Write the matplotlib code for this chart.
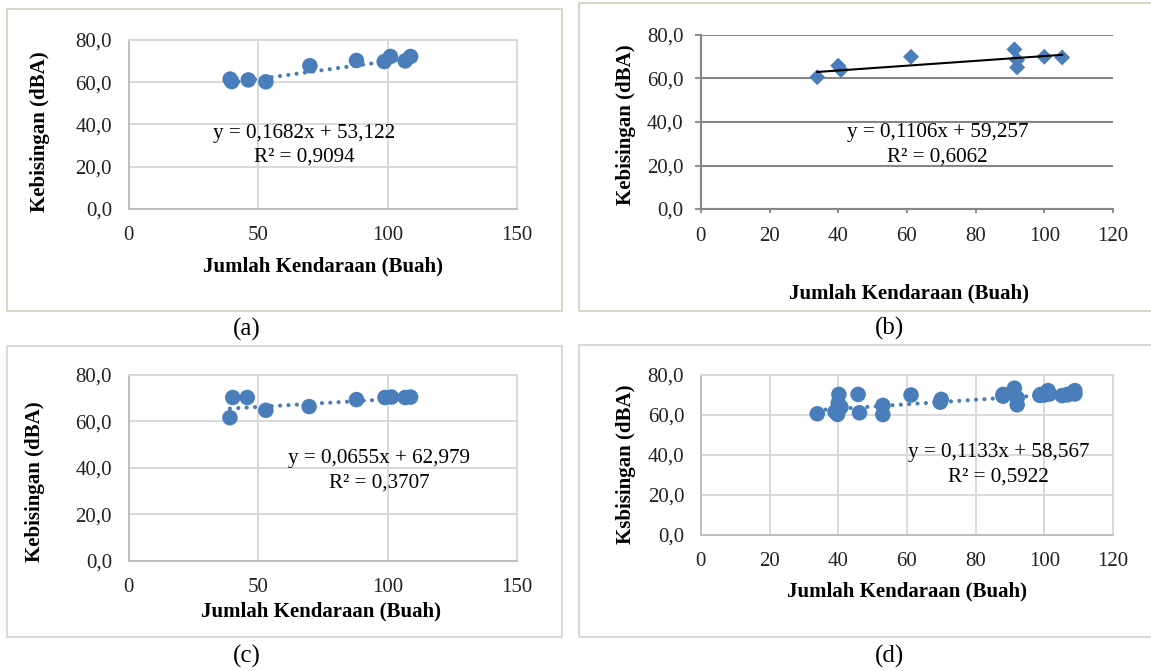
import matplotlib
matplotlib.use('Agg')
import matplotlib.pyplot as plt
from matplotlib.patches import Rectangle
import numpy as np

matplotlib.rcParams['font.family'] = 'serif'
matplotlib.rcParams['font.serif'] = ['Liberation Serif', 'DejaVu Serif']

# data
a_x = [39.2, 39.8, 46.2, 53.0, 70.0, 88.0, 98.7, 101.1, 106.8, 108.9]
a_y = [61.5, 60.3, 61.1, 60.2, 67.8, 70.3, 69.8, 72.2, 70.1, 72.2]
a_fit = (0.1682, 53.122, '0,9094')

b_x = [33.9, 40.0, 40.8, 61.2, 91.3, 92.1, 92.1, 100.0, 105.2]
b_y = [60.6, 65.9, 63.9, 70.0, 73.4, 68.5, 65.1, 70.0, 69.7]
b_fit = (0.1106, 59.257, '0,6062')

c_x = [39.1, 40.2, 45.8, 53.0, 69.7, 88.0, 99.0, 101.5, 106.8, 108.9]
c_y = [61.6, 70.3, 70.3, 64.8, 66.4, 69.4, 70.3, 70.5, 70.3, 70.5]
c_fit = (0.0655, 62.979, '0,3707')

# (d) holds every point of (a), (b) and (c)
d_x = a_x + b_x + c_x
d_y = a_y + b_y + c_y
d_fit = (0.1133, 58.567, '0,5922')

y_ticks = [0, 20, 40, 60, 80]
W, H = 1151, 671
blue = '#4a7ebb'
TICK_FS = 15
EQ_FS = 15.2
LAB_FS = 15


def px(x, y):
	return x / W, 1 - y / H


def box(l, t, r, b):
	return [l / W, 1 - b / H, (r - l) / W, (b - t) / H]


def eq_text(fit):
	m, c, r2 = fit
	s = 'y = {:.4f}x + {:.3f}'.format(m, c).replace('.', ',')
	return s, 'R² = ' + r2


fig = plt.figure(figsize=(W / 100, H / 100), dpi=100)

# panel frames
frames = [((7, 9, 562, 311), '#d8d8c4'), ((579, 3, 1160, 311), '#d8d8c8'),
		  ((7, 346, 562, 637), '#d9d9d9'), ((579, 345, 1160, 637), '#d9d9d9')]
for (l, t, r, b), col in frames:
	fig.add_artist(Rectangle((l / W, 1 - b / H), (r - l) / W, (b - t) / H, transform=fig.transFigure,
							 fill=False, ec=col, lw=1.5))


def excel_circles(rect, xs, ys, fit, xmax, xstep, ylab, eqpos, lab_pos, ylab_pos, xlab_pos):
	ax = fig.add_axes(box(*rect))
	ax.set_xlim(0, xmax)
	ax.set_ylim(0, 80)
	ax.set_xticks(np.arange(0, xmax + 1, xstep))
	ax.set_yticks(y_ticks)
	ax.set_yticklabels(['{:.1f}'.format(v).replace('.', ',') for v in y_ticks])
	ax.grid(True, color='#d9d9d9', lw=1.4)
	ax.set_axisbelow(True)
	for s in ['top', 'right']:
		ax.spines[s].set_color('#d9d9d9')
		ax.spines[s].set_linewidth(1.4)
	for s in ['left', 'bottom']:
		ax.spines[s].set_color('#bfbfbf')
		ax.spines[s].set_linewidth(1.4)
	ax.tick_params(axis='both', length=0, labelsize=TICK_FS, colors='#222222')
	ax.tick_params(axis='y', pad=12)
	ax.tick_params(axis='x', pad=12.5)
	m, c, r2 = fit
	xl = np.array([min(xs), max(xs)])
	ax.plot(xl, m * xl + c, color=blue, lw=3, linestyle=(0, (0.01, 2.0)), dash_capstyle='round', zorder=2)
	ax.scatter(xs, ys, s=125, color=blue, edgecolors='none', zorder=3)
	e1, e2 = eq_text(fit)
	fig.text(*px(*eqpos[0]), e1, ha='center', va='center', fontsize=EQ_FS)
	fig.text(*px(*eqpos[1]), e2, ha='center', va='center', fontsize=EQ_FS)
	fig.text(*px(*ylab_pos), ylab, rotation=90, ha='center', va='center', fontsize=LAB_FS, fontweight='bold')
	fig.text(*px(*xlab_pos), 'Jumlah Kendaraan (Buah)', ha='center', va='center', fontsize=LAB_FS, fontweight='bold')
	fig.text(*px(*lab_pos[1]), lab_pos[0], ha='center', va='center', fontsize=18)
	return ax


# (a)
excel_circles((128.7, 40, 517, 209), a_x, a_y, a_fit, 150, 50, 'Kebisingan (dBA)',
			  [(304.4, 133.3), (304.4, 157.3)], ('(a)', (246.4, 329)), (40, 132), (322.8, 266.7))

# (c)
excel_circles((128.7, 375, 517, 560.7), c_x, c_y, c_fit, 150, 50, 'Kebisingan (dBA)',
			  [(379.5, 458.3), (379.5, 483.3)], ('(c)', (246.4, 656)), (35, 481.5), (320.9, 611))

# (d)
excel_circles((700.8, 375, 1113, 535), d_x, d_y, d_fit, 120, 20, 'Ksbisingan (dBA)',
			  [(998.5, 452.3), (998.5, 476.7)], ('(d)', (889.6, 656)), (626.3, 464), (906.9, 591.7))

# (b) - older excel style: diamonds, solid black trend, dark gridlines
ax = fig.add_axes(box(700.8, 35, 1113, 209))
ax.set_xlim(0, 120)
ax.set_ylim(0, 80)
ax.set_xticks(np.arange(0, 121, 20))
ax.set_yticks(y_ticks)
ax.set_yticklabels(['{:.1f}'.format(v).replace('.', ',') for v in y_ticks])
ax.grid(True, axis='y', color='#868686', lw=1.5)
ax.set_axisbelow(True)
for s in ['top', 'right']:
	ax.spines[s].set_visible(False)
for s in ['left', 'bottom']:
	ax.spines[s].set_color('#868686')
	ax.spines[s].set_linewidth(1.5)
ax.tick_params(axis='both', direction='out', color='#868686', width=1.3, labelsize=TICK_FS, labelcolor='#222222')
ax.tick_params(axis='y', length=4.5, pad=8)
ax.tick_params(axis='x', length=3, pad=10)
ax.scatter(b_x, b_y, marker='D', s=66, color=blue, edgecolors='none', zorder=2)
m, c, r2 = b_fit
xl = np.array([min(b_x), max(b_x)])
ax.plot(xl, m * xl + c, color='black', lw=1.5, zorder=3)
e1, e2 = eq_text(b_fit)
fig.text(*px(937.3, 132.7), e1, ha='center', va='center', fontsize=EQ_FS)
fig.text(*px(937.3, 156.7), e2, ha='center', va='center', fontsize=EQ_FS)
fig.text(*px(626.3, 125), 'Kebisingan (dBA)', rotation=90, ha='center', va='center', fontsize=LAB_FS, fontweight='bold')
fig.text(*px(908.7, 293.3), 'Jumlah Kendaraan (Buah)', ha='center', va='center', fontsize=LAB_FS, fontweight='bold')
fig.text(*px(889.6, 328), '(b)', ha='center', va='center', fontsize=18)

plt.savefig('out.png', dpi=100)
plt.close()
